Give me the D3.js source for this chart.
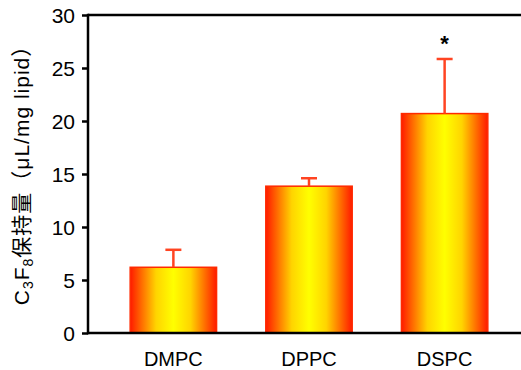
<!DOCTYPE html>
<html>
<head>
<meta charset="utf-8">
<script src="https://cdn.jsdelivr.net/npm/d3@7"></script>
<style>
body { margin: 0; background: #fff; }
svg { display: block; }
</style>
</head>
<body>
<div id="chart-area"></div>
<script>
// data
var lipids = ["DMPC", "DPPC", "DSPC"];
var means = [6.2, 13.85, 20.7];
var errors = [1.65, 0.75, 5.15];
var marks = ["", "", "*"];
var yTicks = [0, 5, 10, 15, 20, 25, 30];

var W = 521, H = 370;
var margin = { left: 88, right: -9, top: 15, bottom: 37 };
var width = W - margin.left - margin.right,
    height = H - margin.top - margin.bottom;

var svg = d3.select("#chart-area").append("svg")
    .attr("width", W)
    .attr("height", H);

// bar fill: red at the sides, yellow in the middle
var grad = svg.append("defs").append("linearGradient")
    .attr("id", "barFill")
    .attr("x1", "0%").attr("x2", "100%")
    .attr("y1", "0%").attr("y2", "0%");
[[0, "#ff1a00"], [0.3, "#ffd400"], [0.5, "#ffff00"], [0.7, "#ffd400"], [1, "#ff1a00"]]
    .forEach(function(s) {
        grad.append("stop").attr("offset", s[0]).attr("stop-color", s[1]);
    });

var g = svg.append("g")
    .attr("transform", "translate(" + margin.left + "," + margin.top + ")");

// Scales
var x = d3.scaleBand()
    .domain(lipids)
    .range([0, width])
    .paddingInner(0.363)
    .paddingOuter(0.311);

var y = d3.scaleLinear()
    .domain([0, 30])
    .range([height, 0]);

// Bars
g.selectAll("rect.bar")
    .data(lipids)
    .enter().append("rect")
    .attr("class", "bar")
    .attr("x", function(d) { return x(d); })
    .attr("width", x.bandwidth())
    .attr("y", function(d, i) { return y(means[i]); })
    .attr("height", function(d, i) { return y(0) - y(means[i]); })
    .attr("fill", "url(#barFill)")
    .attr("stroke", "#ff2a00")
    .attr("stroke-width", 1.5);

// Error bars (upper only)
var errCol = "#ff4422";
lipids.forEach(function(d, i) {
    var cx = x(d) + x.bandwidth() / 2;
    g.append("line")
        .attr("x1", cx).attr("x2", cx)
        .attr("y1", y(means[i])).attr("y2", y(means[i] + errors[i]))
        .attr("stroke", errCol).attr("stroke-width", 2.5);
    g.append("line")
        .attr("x1", cx - 8).attr("x2", cx + 8)
        .attr("y1", y(means[i] + errors[i])).attr("y2", y(means[i] + errors[i]))
        .attr("stroke", errCol).attr("stroke-width", 2.5);
    if (marks[i]) {
        g.append("text")
            .attr("x", cx)
            .attr("y", y(means[i] + errors[i]) - 8)
            .attr("text-anchor", "middle")
            .attr("font-family", "Liberation Sans, Arial, sans-serif")
            .attr("font-size", "22px")
            .attr("font-weight", "bold")
            .text(marks[i]);
    }
});

// Y Axis
var yAxisCall = d3.axisLeft(y)
    .tickValues(yTicks)
    .tickSize(6)
    .tickPadding(7)
    .tickFormat(d3.format("d"));
var yAxis = g.append("g")
    .attr("class", "y axis")
    .call(yAxisCall);
yAxis.attr("font-size", null).attr("font-family", null);
yAxis.select(".domain").remove();
yAxis.selectAll("line").attr("stroke", "#000").attr("stroke-width", 2.5);
yAxis.selectAll("text")
    .attr("dy", "0.35em")
    .style("font-family", "Liberation Sans, Arial, sans-serif")
    .style("font-size", "21px")
    .attr("fill", "#000");

// frame lines: left, bottom, top
g.append("line").attr("x1", 0).attr("x2", 0).attr("y1", -1.2).attr("y2", height + 1.2)
    .attr("stroke", "#000").attr("stroke-width", 2.5);
g.append("line").attr("x1", 0).attr("x2", width).attr("y1", height).attr("y2", height)
    .attr("stroke", "#000").attr("stroke-width", 2.5);
g.append("line").attr("x1", 0).attr("x2", width).attr("y1", 0).attr("y2", 0)
    .attr("stroke", "#000").attr("stroke-width", 2.5);

// X labels
g.selectAll("text.xlab")
    .data(lipids)
    .enter().append("text")
    .attr("class", "xlab")
    .attr("x", function(d) { return x(d) + x.bandwidth() / 2; })
    .attr("y", height + 33)
    .attr("text-anchor", "middle")
    .style("font-family", "Liberation Sans, Arial, sans-serif")
    .style("font-size", "20px")
    .attr("fill", "#000")
    .text(function(d) { return d; });

// Y label
var yLabel = svg.append("text")
    .attr("transform", "translate(29,170) rotate(-90)")
    .attr("text-anchor", "middle")
    .style("font-family", "Liberation Sans, Noto Sans CJK JP, sans-serif")
    .style("font-size", "21px")
    .style("letter-spacing", "1px")
    .attr("fill", "#000");
yLabel.append("tspan").text("C");
yLabel.append("tspan").style("font-size", "14px").attr("dy", 4).text("3");
yLabel.append("tspan").attr("dy", -4).text("F");
yLabel.append("tspan").style("font-size", "14px").attr("dy", 4).text("8");
yLabel.append("tspan").attr("dy", -4).style("font-family", "Noto Sans CJK JP").text("保持量（");
yLabel.append("tspan").text("μL/mg lipid");
yLabel.append("tspan").style("font-family", "Noto Sans CJK JP").text("）");
</script>
</body>
</html>
